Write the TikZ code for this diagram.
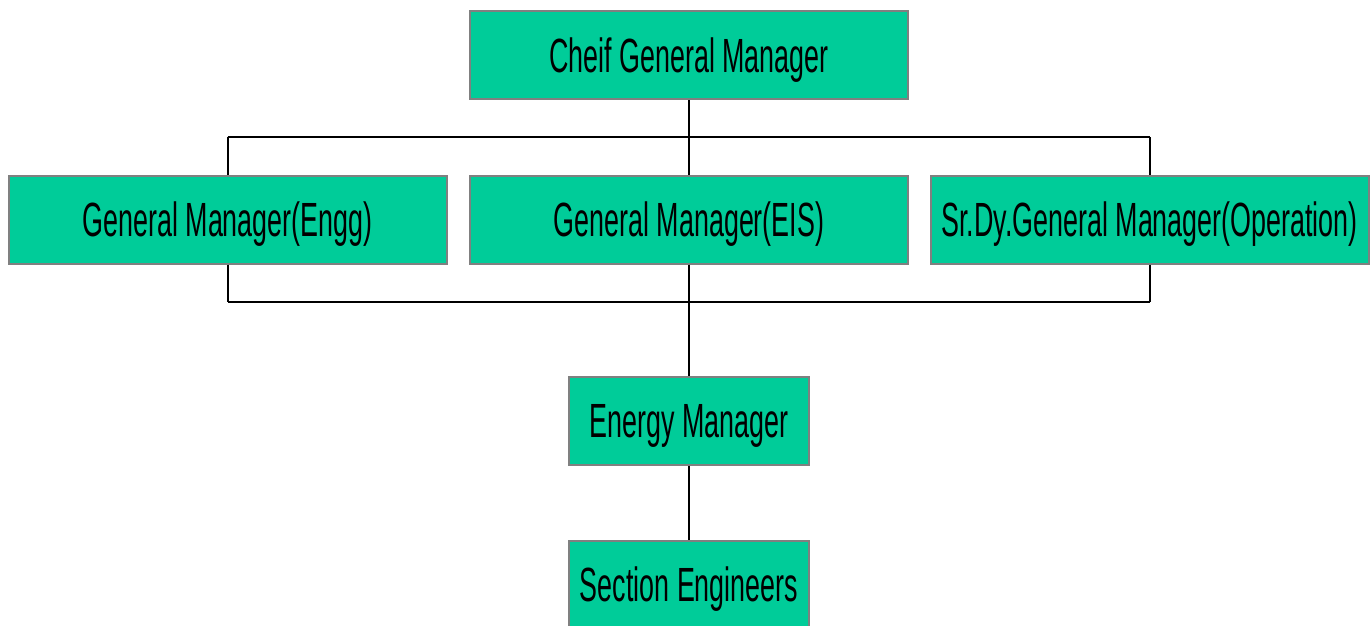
\documentclass[tikz,border=0pt]{standalone}
\usepackage{fontspec}
\newfontfamily\condsans[FakeStretch=0.56]{Liberation Sans}
\definecolor{boxfill}{HTML}{00CC99}
\definecolor{boxedge}{HTML}{808080}
\begin{document}
\begin{tikzpicture}[x=1pt,y=-1pt,
  post/.style={draw=boxedge, line width=2pt, fill=boxfill, rectangle,
    inner sep=0pt, minimum height=88pt,
    font=\condsans\fontsize{48}{58}\selectfont,
    text height=34.4pt, text depth=0pt},
  wide/.style={post, minimum width=438pt},
  narrow/.style={post, minimum width=240pt},
  link/.style={draw=black, line width=2pt},
  bar/.style={draw=black, line width=2.8pt}]
\useasboundingbox (0,0) rectangle (1372,625);

% boxes of the chart
\node[wide]   (cgm)  at (689,55)      {Cheif General Manager};
\node[wide]   (engg) at (227.5,219.5) {General Manager(Engg)};
\node[wide]   (eis)  at (689,219.5)   {General Manager(EIS)};
\node[wide]   (ops)  at (1149.5,219.5){Sr.Dy.General Manager(Operation)};
\node[narrow] (em)   at (689,420.5)   {Energy Manager};
\node[narrow] (se)   at (689,584.5)   {Section Engineers};

% junction rails above and below the middle row
\coordinate (topbar) at (689,137);
\coordinate (botbar) at (689,302);

\draw[link] (engg.north) -- (engg.north |- topbar);
\draw[link] (ops.north) -- (ops.north |- topbar);
\draw[bar] (engg.north |- topbar) -- (ops.north |- topbar);
\draw[link] (cgm.south) -- (eis.north);

\draw[link] (engg.south) -- (engg.south |- botbar);
\draw[link] (ops.south) -- (ops.south |- botbar);
\draw[bar] (engg.south |- botbar) -- (ops.south |- botbar);
\draw[link] (eis.south) -- (em.north);

\draw[link] (em.south) -- (se.north);
\end{tikzpicture}
\end{document}
